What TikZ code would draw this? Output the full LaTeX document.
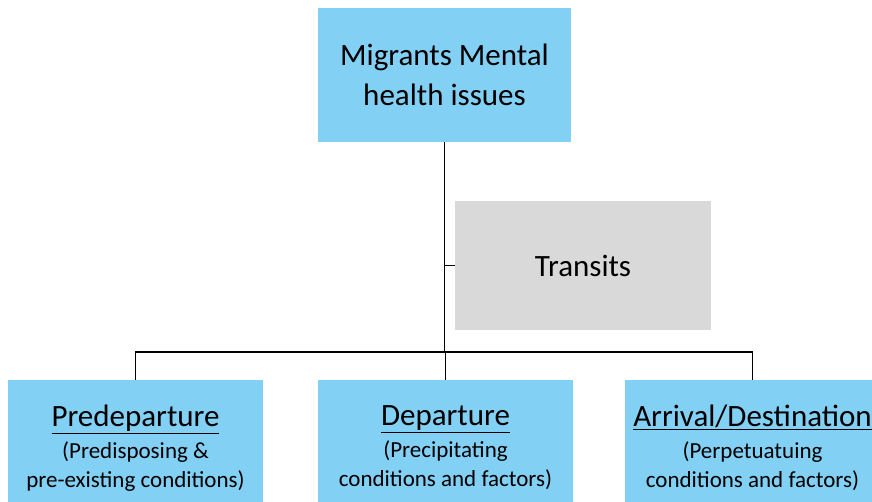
\documentclass[tikz,border=0pt]{standalone}
\usepackage{fontspec}
\setmainfont{Carlito}
\usepackage{xcolor}
\definecolor{skyfill}{HTML}{83D0F5}
\definecolor{greyfill}{HTML}{D9D9D9}
\usepackage{tikz}
\usetikzlibrary{calc,positioning}
\tikzset{
  headBox/.style={%
    rectangle,
    fill=skyfill,
    minimum width=253pt,
    minimum height=134pt,
    align=center,
    font=\fontsize{31}{40}\selectfont},
  transitBox/.style={%
    rectangle,
    fill=greyfill,
    minimum width=256pt,
    minimum height=129pt,
    align=center,
    font=\fontsize{31}{40}\selectfont},
  stageBox/.style={%
    rectangle,
    fill=skyfill,
    minimum width=255pt,
    minimum height=134pt,
    align=center,
    font=\fontsize{23}{29}\selectfont},
  linkLine/.style={%
    draw,
    line width=1.5pt,
    black},
  }
\newcommand\stagehead[1]{{\fontsize{31}{34}\selectfont\underline{#1}}}

\begin{document}
\begin{tikzpicture}[x=1pt,y=-1pt,every node/.style={text depth=0pt,inner sep=0pt,outer sep=0pt}]
  \clip (0,0) rectangle (872,502);
  \node[headBox] (health) at (444.5,75) {Migrants Mental\\health issues};
  \node[transitBox] (transits) at (583,265.5) {Transits};
  \node[stageBox] (stage 1) at (135.5,446.5) {\stagehead{Predeparture}\\[3pt](Predisposing \&\\pre-existing conditions)};
  \node[stageBox] (stage 2) at (445.5,446.5) {\stagehead{Departure}\\[3pt](Precipitating\\conditions and factors)};
  \node[stageBox] (stage 3) at (752.5,446.5) {\stagehead{Arrival/Destination}\\[3pt](Perpetuatuing\\conditions and factors)};
  \coordinate (fork) at (health.south |- 0,352);
  \draw[linkLine] (health.south) -- (fork);
  \draw[linkLine] (health.south |- transits.west) -- (transits.west);
  \draw[linkLine] (stage 1.north) |- (fork) -| (stage 3.north);
  \draw[linkLine] (fork) -- (fork -| stage 2.north) -- (stage 2.north);
\end{tikzpicture}
\end{document}
